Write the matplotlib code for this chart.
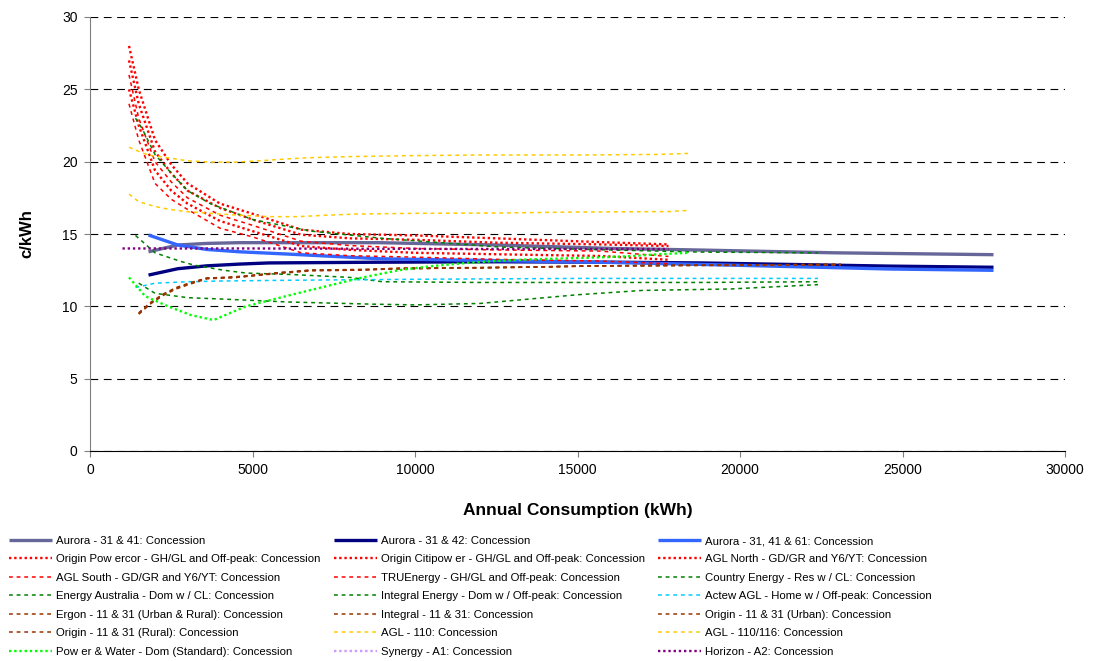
import matplotlib.pyplot as plt

plt.rcParams['font.family'] = ['Liberation Sans', 'DejaVu Sans']

# consumption (kWh) and price (c/kWh)
aurora_41_x = [1800, 2700, 3600, 4600, 6200, 8900, 12500, 16100, 18800, 22900, 27800]
aurora_41_y = [13.77, 14.24, 14.35, 14.4, 14.4, 14.4, 14.24, 14.0, 13.89, 13.7, 13.57]
aurora_42_x = [1800, 2700, 3600, 4600, 5500, 8900, 12500, 16100, 18800, 24600, 27800]
aurora_42_y = [12.16, 12.6, 12.8, 12.92, 13.0, 13.05, 13.08, 13.05, 13.0, 12.78, 12.7]
aurora_61_x = [1800, 2700, 3600, 4600, 6200, 8900, 16100, 19700, 24600, 27800]
aurora_61_y = [14.93, 14.24, 13.93, 13.77, 13.6, 13.29, 13.03, 12.85, 12.58, 12.49]

red_x = [1200, 1500, 2000, 2500, 3000, 4000, 5000, 6500, 8000, 10000, 12500, 15700, 17800]
powercor_y = [28.0, 25.0, 21.5, 19.8, 18.5, 17.1, 16.4, 15.3, 15.0, 14.9, 14.7, 14.44, 14.28]
citipower_y = [27.0, 24.0, 20.7, 19.2, 18.0, 16.8, 16.0, 14.95, 14.7, 14.6, 14.4, 14.28, 14.17]
agl_north_y = [25.0, 22.5, 19.4, 18.0, 17.1, 15.9, 15.2, 14.17, 13.9, 13.7, 13.6, 13.48, 13.22]
agl_south_y = [24.0, 21.5, 18.5, 17.4, 16.7, 15.4, 14.8, 13.7, 13.5, 13.4, 13.25, 13.13, 12.95]
truenergy_y = [26.0, 23.0, 20.0, 18.6, 17.5, 16.3, 15.6, 14.5, 14.2, 14.0, 13.9, 13.82, 13.45]

country_x = [1400, 1600, 2000, 2500, 3000, 3700, 5000, 6800, 9000, 12600, 15000, 18800, 22400]
country_y = [23.0, 22.3, 20.5, 19.2, 18.0, 17.1, 16.0, 15.2, 14.7, 14.1, 13.95, 13.75, 13.7]
energy_aus_x = [1400, 2000, 2800, 3200, 4100, 4800, 6200, 8000, 9000, 12000, 15000, 18800, 22400]
energy_aus_y = [14.9, 13.7, 13.1, 12.85, 12.5, 12.3, 12.2, 12.0, 11.7, 11.65, 11.65, 11.65, 11.7]
integral_en_x = [1500, 2000, 3000, 4100, 6100, 8700, 10000, 12000, 13000, 15000, 17000, 19700, 22400]
integral_en_y = [11.6, 10.9, 10.6, 10.5, 10.3, 10.15, 10.1, 10.2, 10.4, 10.8, 11.1, 11.2, 11.5]

actew_x = [1400, 2000, 3000, 4000, 6000, 10000, 15000, 22400]
actew_y = [11.3, 11.6, 11.7, 11.75, 11.8, 11.87, 11.93, 11.93]

brown_x = [1500, 1850, 2250, 2650, 3100, 3600, 4500, 5700, 6800, 8200, 9500, 13200, 15700, 23100]
ergon_y = [9.5, 10.2, 10.8, 11.25, 11.6, 11.95, 12.0, 12.3, 12.5, 12.5, 12.6, 12.7, 12.8, 12.9]
integral_1131_y = [9.55, 10.25, 10.85, 11.3, 11.65, 11.95, 12.05, 12.3, 12.5, 12.5, 12.65, 12.7, 12.8, 12.9]
origin_urban_y = [9.45, 10.15, 10.75, 11.2, 11.55, 11.9, 12.0, 12.25, 12.45, 12.5, 12.6, 12.7, 12.8, 12.9]
origin_rural_y = [9.5, 10.2, 10.8, 11.25, 11.6, 11.95, 12.0, 12.3, 12.5, 12.55, 12.6, 12.7, 12.8, 12.85]

agl110_x = [1200, 1400, 1800, 2400, 3000, 3700, 4500, 5200, 6000, 6700, 8000, 10000, 12000, 15000, 17500, 18400]
agl110_y = [21.0, 20.8, 20.45, 20.27, 20.06, 19.97, 19.97, 20.06, 20.18, 20.27, 20.35, 20.42, 20.46, 20.46, 20.5, 20.57]
agl116_x = [1200, 1500, 2000, 2400, 3000, 3500, 4000, 4700, 5500, 6400, 7300, 8200, 10000, 12600, 15000, 17800, 18400]
agl116_y = [17.76, 17.23, 16.9, 16.72, 16.54, 16.47, 16.38, 16.29, 16.2, 16.2, 16.3, 16.38, 16.43, 16.45, 16.52, 16.55, 16.63]

pw_x = [1200, 1700, 2400, 3100, 3800, 4800, 5500, 6200, 7200, 8300, 9500, 10600, 11600, 12600, 13600, 15200, 16500, 17500, 18400]
pw_y = [12.0, 10.7, 10.0, 9.4, 9.05, 10.0, 10.4, 10.8, 11.35, 11.95, 12.5, 12.8, 13.0, 13.15, 13.25, 13.35, 13.45, 13.6, 13.7]

synergy_x = []
synergy_y = []

horizon_x = [1000, 5000, 10000, 15000, 17800]
horizon_y = [14.0, 14.0, 13.97, 13.96, 13.96]

labels = [
    "Aurora - 31 & 41: Concession", "Aurora - 31 & 42: Concession", "Aurora - 31, 41 & 61: Concession",
    "Origin Pow ercor - GH/GL and Off-peak: Concession", "Origin Citipow er - GH/GL and Off-peak: Concession",
    "AGL North - GD/GR and Y6/YT: Concession",
    "AGL South - GD/GR and Y6/YT: Concession", "TRUEnergy - GH/GL and Off-peak: Concession",
    "Country Energy - Res w / CL: Concession",
    "Energy Australia - Dom w / CL: Concession", "Integral Energy - Dom w / Off-peak: Concession",
    "Actew AGL - Home w / Off-peak: Concession",
    "Ergon - 11 & 31 (Urban & Rural): Concession", "Integral - 11 & 31: Concession",
    "Origin - 11 & 31 (Urban): Concession",
    "Origin - 11 & 31 (Rural): Concession", "AGL - 110: Concession", "AGL - 110/116: Concession",
    "Pow er & Water - Dom (Standard): Concession", "Synergy - A1: Concession", "Horizon - A2: Concession",
]

xs = [aurora_41_x, aurora_42_x, aurora_61_x,
      red_x, red_x, red_x,
      red_x, red_x, country_x,
      energy_aus_x, integral_en_x, actew_x,
      brown_x, brown_x, brown_x,
      brown_x, agl110_x, agl116_x,
      pw_x, synergy_x, horizon_x]
ys = [aurora_41_y, aurora_42_y, aurora_61_y,
      powercor_y, citipower_y, agl_north_y,
      agl_south_y, truenergy_y, country_y,
      energy_aus_y, integral_en_y, actew_y,
      ergon_y, integral_1131_y, origin_urban_y,
      origin_rural_y, agl110_y, agl116_y,
      pw_y, synergy_y, horizon_y]

solid = dict(linestyle='-', lw=2.4)
dot = dict(linestyle=(0, (1, 1.2)), lw=1.7)
dash = dict(linestyle=(0, (2.5, 2.5)), lw=1.1)
styles = [
    dict(color='#666699', **solid), dict(color='#000080', **solid), dict(color='#3366FF', **solid),
    dict(color='#FF0000', **dot), dict(color='#FF0000', **dot), dict(color='#FF0000', **dot),
    dict(color='#FF0000', **dash), dict(color='#FF0000', **dash), dict(color='#008000', **dash),
    dict(color='#008000', **dash), dict(color='#008000', **dash), dict(color='#00CCFF', **dash),
    dict(color='#993300', **dash), dict(color='#993300', **dash), dict(color='#993300', **dash),
    dict(color='#993300', **dash), dict(color='#FFCC00', **dash), dict(color='#FFCC00', **dash),
    dict(color='#00FF00', **dot), dict(color='#CC99FF', **dot), dict(color='#800080', **dot),
]

fig = plt.figure(figsize=(10.93, 6.61), dpi=100)
ax = fig.add_axes([90 / 1093, 1 - 451 / 661, 975 / 1093, 434 / 661])

handles = []
for x, y, lab, st in zip(xs, ys, labels, styles):
    ln, = ax.plot(x, y, label=lab, dash_capstyle='butt', solid_capstyle='butt', **st)
    handles.append(ln)

ax.set_xlim(0, 30000)
ax.set_ylim(0, 30)
ax.set_xticks(range(0, 30001, 5000))
ax.set_yticks(range(0, 31, 5))
ax.tick_params(labelsize=10, length=4, pad=5, color='#808080')
ax.yaxis.grid(True, color='black', linestyle=(0, (7, 5)), lw=0.8)
ax.set_axisbelow(True)
for s in ['top', 'right']:
    ax.spines[s].set_visible(False)
ax.spines['left'].set_color('#808080')
ax.spines['bottom'].set_color('black')

ax.set_xlabel('Annual Consumption (kWh)', fontsize=12.5, fontweight='bold', labelpad=18)
ax.set_ylabel('c/kWh', fontsize=12, fontweight='bold', labelpad=20)

# matplotlib fills legend columns first, reorder for row-wise reading
order = [r * 3 + c for c in range(3) for r in range(7)]
leg = fig.legend([handles[i] for i in order], [labels[i] for i in order],
                 loc='upper left', bbox_to_anchor=(9 / 1093, 1 - 536 / 661),
                 ncol=3, frameon=False, fontsize=8.2,
                 handlelength=3.8, handletextpad=0.35, labelspacing=0.74,
                 columnspacing=1.15, borderaxespad=0, borderpad=0)

fig.savefig('out.png', dpi=100)
